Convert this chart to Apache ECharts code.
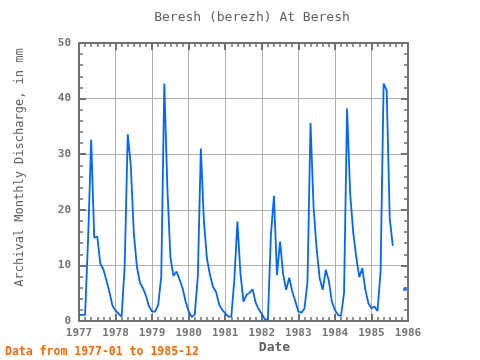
<!DOCTYPE html>
<html>
<head>
<meta charset="utf-8">
<script src="https://cdn.jsdelivr.net/npm/echarts@6/dist/echarts.min.js"></script>
<style>
  html, body { margin: 0; padding: 0; background: #fff; }
  #chart { width: 480px; height: 360px; }
</style>
</head>
<body>
<div id="chart"></div>
<script>
// monthly discharge, Jan..Dec, one array per year (null = no data)
var years = [1977, 1978, 1979, 1980, 1981, 1982, 1983, 1984, 1985]
var v1977 = [1.1, 1.1, 1.1, 15, 32.6, 15, 15.2, 10.3, 9.3, 7.3, 5.2, 2.7]
var v1978 = [1.9, 1.3, 0.8, 10, 33.6, 28, 15.7, 9.8, 6.9, 5.9, 4.5, 2.6]
var v1979 = [1.7, 1.7, 2.9, 8, 42.7, 24, 11.5, 8.1, 8.9, 7.5, 5.9, 3.5]
var v1980 = [1.7, 0.7, 1.2, 8, 31, 18, 11.2, 8.3, 6.1, 5.2, 3.0, 2.0]
var v1981 = [1.4, 0.8, 0.8, 7.5, 17.9, 8.5, 3.5, 4.7, 5.1, 5.7, 3.3, 2.1]
var v1982 = [1.3, 0.3, 0.3, 15.5, 22.5, 8.3, 14.3, 8.5, 5.6, 7.8, 5.3, 3.6]
var v1983 = [1.7, 1.5, 2.2, 7, 35.6, 20.5, 13, 7.7, 5.6, 9.2, 7.3, 3.5]
var v1984 = [2.0, 1.1, 0.9, 5, 38.2, 23, 16, 11.6, 7.9, 9.5, 5.6, 3.2]
var v1985 = [2.3, 2.6, 1.8, 9, 42.7, 41.5, 18.5, 13.5, null, null, null, 5.7]
var yearValues = [v1977, v1978, v1979, v1980, v1981, v1982, v1983, v1984, v1985]

var mono = 'DejaVu Sans Mono'
var axisGray = '#707070'
var textGray = '#606060'

var points = []
for (var i = 0; i < years.length; i++) {
  for (var k = 0; k < 12; k++) {
    points.push([years[i] + k / 12, yearValues[i][k]])
  }
}
// points with no neighbours are drawn as dots
var lonely = []
for (var j = 0; j < points.length; j++) {
  var prev = j > 0 ? points[j - 1][1] : null
  var next = j < points.length - 1 ? points[j + 1][1] : null
  if (points[j][1] != null && prev == null && next == null) lonely.push(points[j])
}

function xAx (pos, labels) {
  return {
    type: 'value', min: 1977, max: 1986, interval: 1, position: pos,
    axisLine: { show: true, onZero: false, lineStyle: { color: axisGray, width: 2 } },
    axisTick: { show: true, inside: true, length: 7, lineStyle: { color: axisGray, width: 2 } },
    minorTick: { show: true, splitNumber: 6, length: 4, lineStyle: { color: axisGray, width: 1.5 } },
    splitLine: { show: labels, lineStyle: { color: '#b0b0b0', width: 1 } },
    axisLabel: { show: labels, color: '#747474', fontFamily: mono, fontWeight: 'bold', fontSize: 11, margin: 7,
      formatter: function (v) { return String(v) } }
  }
}
function yAx (pos, labels) {
  return {
    type: 'value', min: 0, max: 50, interval: 10, position: pos,
    axisLine: { show: true, onZero: false, lineStyle: { color: axisGray, width: 2 } },
    axisTick: { show: true, inside: true, length: 7, lineStyle: { color: axisGray, width: 2 } },
    minorTick: { show: true, splitNumber: 5, length: 4, lineStyle: { color: axisGray, width: 1.5 } },
    splitLine: { show: labels, lineStyle: { color: '#b0b0b0', width: 1 } },
    axisLabel: { show: labels, color: '#747474', fontFamily: mono, fontWeight: 'bold', fontSize: 11, margin: 8 }
  }
}

var chart = echarts.init(document.getElementById('chart'))
chart.setOption({
  animation: false,
  grid: { left: 79, right: 72, top: 43, bottom: 39, containLabel: false },
  xAxis: [xAx('bottom', true), xAx('top', false)],
  yAxis: [yAx('left', true), yAx('right', false)],
  series: [{
    type: 'line',
    data: points,
    showSymbol: false,
    symbol: 'none',
    connectNulls: false,
    lineStyle: { color: '#0066ff', width: 1.8 },
    itemStyle: { color: '#0066ff' }
  }, {
    type: 'scatter',
    data: lonely,
    symbolSize: 4,
    itemStyle: { color: '#0066ff' }
  }],
  graphic: [
    { type: 'text', x: 252, y: 17.5, style: { text: 'Beresh (berezh) At Beresh', fill: textGray,
      font: '13px ' + mono, textAlign: 'center', textVerticalAlign: 'middle' } },
    { type: 'text', x: 19.5, y: 167.5, rotation: Math.PI / 2, style: { text: 'Archival Monthly Discharge, in mm',
      fill: textGray, font: '12px ' + mono, textAlign: 'center', textVerticalAlign: 'middle' } },
    { type: 'text', x: 274.5, y: 347.5, style: { text: 'Date', fill: textGray,
      font: 'bold 13px ' + mono, textAlign: 'center', textVerticalAlign: 'middle' } },
    { type: 'text', x: 5, y: 352, style: { text: 'Data from 1977-01 to 1985-12', fill: '#ff6600',
      font: 'bold 11.5px ' + mono, textAlign: 'left', textVerticalAlign: 'middle' } }
  ]
})
</script>
</body>
</html>
